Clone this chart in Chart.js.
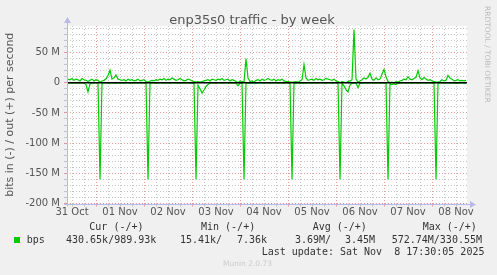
<!DOCTYPE html>
<html><head><meta charset="utf-8">
<script src="https://cdn.jsdelivr.net/npm/chart.js@4/dist/chart.umd.min.js"></script>
<style>
html,body{margin:0;padding:0;background:#f0f0f0;}
#wrap{position:relative;width:497px;height:275px;overflow:hidden;background:#f0f0f0;}
canvas{position:absolute;left:0;top:0;}
.t{position:absolute;white-space:pre;font-family:"DejaVu Sans Mono",monospace;font-size:10px;line-height:12px;color:#333;}
#title{position:absolute;left:0;width:504px;top:11.5px;text-align:center;font-family:"DejaVu Sans",sans-serif;font-size:13px;line-height:16px;color:#555;white-space:pre;}
#rrd{position:absolute;left:492px;top:6px;transform:rotate(90deg);transform-origin:0 0;font-family:"DejaVu Sans",sans-serif;font-size:7.5px;line-height:9px;color:#bbb;white-space:pre;}
#munin{position:absolute;left:223px;top:259.4px;font-family:"DejaVu Sans",sans-serif;font-size:7.5px;line-height:9px;color:#ccc;white-space:pre;}
#sw{position:absolute;left:14px;top:237px;width:6px;height:6px;background:#00cc00;}
</style></head><body>
<div id="wrap">
<canvas id="c" width="497" height="275"></canvas>
<div id="title">enp35s0 traffic - by week</div>
<div id="rrd">RRDTOOL / TOBI OETIKER</div>
<div class="t" style="left:89.3px;top:220.5px">Cur (-/+)</div>
<div class="t" style="left:201px;top:220.5px">Min (-/+)</div>
<div class="t" style="left:312.7px;top:220.5px">Avg (-/+)</div>
<div class="t" style="left:422.7px;top:220.5px">Max (-/+)</div>
<div id="sw"></div>
<div class="t" style="left:26.7px;top:234px">bps</div>
<div class="t" style="left:66px;top:234px">430.65k/989.93k</div>
<div class="t" style="left:180px;top:234px">15.41k/</div>
<div class="t" style="left:237px;top:234px">7.36k</div>
<div class="t" style="left:295px;top:234px">3.69M/</div>
<div class="t" style="left:345px;top:234px">3.45M</div>
<div class="t" style="left:391.7px;top:234px">572.74M/330.55M</div>
<div class="t" style="left:261.7px;top:245.5px">Last update: Sat Nov  8 17:30:05 2025</div>
<div id="munin">Munin 2.0.73</div>
</div>
<script>
// Time axis: hours since 31 Oct 00:00; samples hourly starting at START_HOUR
const START_HOUR = 10;
const X_MIN = 9.5, X_MAX = 209.5;
const dayLabels = ['31 Oct','01 Nov','02 Nov','03 Nov','04 Nov','05 Nov','06 Nov','07 Nov','08 Nov'];
const yTickValues = [50, 0, -50, -100, -150, -200];

// out (+) traffic, M bits/s, hourly
const outMbps = [
 6,5,7,4,6,5,3,7,5,4,
 2,4,6,3,5,4,1,3,4,6,
 12,21,6,8,13,6,5,4,5,3,
 6,4,5,3,4,6,3,4,5,2,
 1,3,4,3,5,4,6,5,7,4,
 6,5,8,6,4,5,7,5,3,4,
 6,5,3,2,1,2,1,2,3,4,
 5,3,6,5,4,6,5,7,4,5,
 6,3,5,4,2,0,3,2,1,40,
 8,2,3,1,4,5,3,6,4,5,
 7,5,4,6,3,5,4,6,3,2,
 2,1,1,1,2,1,3,5,30,8,
 4,5,6,4,7,5,6,4,5,7,
 6,5,4,6,3,2,0,2,1,0,
 2,3,5,88,6,1,3,5,8,6,
 9,16,6,4,8,5,6,14,22,10,
 2,0,1,0,2,1,3,4,6,5,
 10,6,5,7,9,20,8,5,9,6,
 4,5,3,2,1,1,2,5,3,4,
 12,8,6,3,4,5,3,4,3,4
];
// in (-) traffic magnitude, M bits/s, hourly (drawn negative)
const inMbps = [
 0.4,0.4,0.5,0.4,0.4,0.5,0.4,0.4,0.6,3,
 15,2,0.5,0.4,0.4,0.5,160,0.5,0.4,0.4,
 0.5,0.6,0.4,0.4,0.5,0.4,0.4,0.4,0.5,0.4,
 0.4,0.5,0.4,0.4,0.4,0.5,0.4,0.4,0.4,0.5,
 160,0.5,0.4,0.4,0.5,0.4,0.4,0.4,0.5,0.4,
 0.4,0.5,0.4,0.4,0.4,0.5,0.4,0.4,0.5,0.4,
 0.4,0.5,0.4,0.6,160,4,10,17,12,6,
 3,0.5,0.4,0.4,0.5,0.4,0.4,0.5,0.4,0.4,
 0.4,0.5,0.4,0.4,0.6,5,0.5,0.4,160,0.5,
 0.6,0.5,0.4,0.4,0.5,0.4,0.4,0.4,0.5,0.4,
 0.4,0.5,0.4,0.4,0.4,0.5,0.4,0.4,0.5,0.4,
 0.4,0.5,160,0.5,0.4,0.4,0.5,0.4,0.6,0.5,
 0.4,0.4,0.5,0.4,0.4,0.5,0.4,0.4,0.4,0.5,
 0.4,0.4,0.5,0.4,0.4,0.5,160,0.5,5,12,
 15,4,0.6,0.5,0.4,8,1,0.5,0.4,0.4,
 0.5,0.4,0.4,0.5,0.4,0.4,0.5,0.4,0.4,0.5,
 160,2,3,2,3,1,0.5,0.4,0.4,0.5,
 0.4,0.4,0.5,0.4,0.4,0.5,0.4,0.4,0.4,0.5,
 0.4,0.4,0.5,0.4,160,0.5,0.4,0.4,0.5,0.4,
 0.4,0.5,0.4,0.4,1,0.5,0.4,0.4,0.5,0.4
];

const GREEN = '#00cc00';
const MAJOR = 'rgba(225,120,120,0.75)';
const MINOR = 'rgba(175,175,175,0.7)';
const AXIS = 'rgb(185,185,235)';

const outData = outMbps.map((v, i) => ({x: START_HOUR + i, y: v}));
const inData = inMbps.map((v, i) => ({x: START_HOUR + i, y: -v}));

const deco = {
  id: 'deco',
  beforeDraw(chart) {
    const {ctx, chartArea: a} = chart;
    ctx.save();
    ctx.fillStyle = '#f0f0f0';
    ctx.fillRect(0, 0, chart.width, chart.height);
    ctx.fillStyle = '#ffffff';
    ctx.fillRect(a.left, a.top, a.right - a.left, a.bottom - a.top);
    ctx.restore();
  },
  afterDatasetsDraw(chart) {
    const {ctx, chartArea: a, scales: {y}} = chart;
    const y0 = y.getPixelForValue(0);
    ctx.save();
    ctx.strokeStyle = '#000';
    ctx.lineWidth = 1.3;
    ctx.beginPath(); ctx.moveTo(a.left, y0); ctx.lineTo(a.right, y0); ctx.stroke();
    // axes with arrows
    const bx = Math.round(a.left) + 0.5, by = Math.round(a.bottom) + 0.5;
    ctx.strokeStyle = AXIS; ctx.fillStyle = AXIS; ctx.lineWidth = 1;
    ctx.beginPath(); ctx.moveTo(a.left - 3, by); ctx.lineTo(a.right + 4, by); ctx.stroke();
    ctx.beginPath(); ctx.moveTo(bx, a.bottom + 3); ctx.lineTo(bx, a.top - 4); ctx.stroke();
    ctx.beginPath(); ctx.moveTo(a.right + 3, by - 3.5); ctx.lineTo(a.right + 9, by); ctx.lineTo(a.right + 3, by + 3.5); ctx.closePath(); ctx.fill();
    ctx.beginPath(); ctx.moveTo(bx - 3.5, a.top - 3); ctx.lineTo(bx, a.top - 9); ctx.lineTo(bx + 3.5, a.top - 3); ctx.closePath(); ctx.fill();
    ctx.restore();
  }
};

Chart.defaults.font.family = '"DejaVu Sans", sans-serif';
Chart.defaults.color = '#555';

new Chart(document.getElementById('c'), {
  type: 'line',
  data: {
    datasets: [
      {label: 'bps out', data: outData, borderColor: GREEN, borderWidth: 1.2, pointRadius: 0, tension: 0, fill: false},
      {label: 'bps in', data: inData, borderColor: GREEN, borderWidth: 1.2, pointRadius: 0, tension: 0, fill: false}
    ]
  },
  options: {
    responsive: false,
    animation: false,
    layout: {padding: {top: 26, right: 30, bottom: 51.5, left: 0}},
    plugins: {legend: {display: false}, title: {display: false}, tooltip: {enabled: false}},
    scales: {
      x: {
        type: 'linear', min: X_MIN, max: X_MAX,
        afterFit(s) { s.height = 20; },
        ticks: {
          stepSize: 6, includeBounds: false, autoSkip: false, maxRotation: 0, minRotation: 0,
          padding: 0, font: {size: 10}, color: '#555',
          callback(v) {
            const r = ((v % 24) + 24) % 24;
            return r === 12 ? dayLabels[Math.round((v - 12) / 24)] : '';
          }
        },
        grid: {
          color: c => (c.tick && c.tick.value % 24 === 0) ? MAJOR : MINOR,
          tickColor: c => (c.tick && c.tick.value % 24 === 0) ? MAJOR : MINOR,
          tickLength: 3, lineWidth: 1
        },
        border: {display: false, dash: [1, 2]}
      },
      y: {
        type: 'linear', min: -200, max: 94,
        afterFit(s) { s.width = 67; },
        ticks: {
          stepSize: 10, includeBounds: false, autoSkip: false, padding: 4, font: {size: 10}, color: '#555',
          callback(v) {
            const r = Math.round(v);
            if (!yTickValues.includes(r)) return '';
            return r === 0 ? '0' : r + ' M';
          }
        },
        grid: {
          color: c => (c.tick && Math.round(c.tick.value) % 50 === 0) ? MAJOR : MINOR,
          tickColor: c => (c.tick && Math.round(c.tick.value) % 50 === 0) ? MAJOR : MINOR,
          tickLength: 3, lineWidth: 1
        },
        border: {display: false, dash: [1, 2]},
        title: {display: true, text: 'bits in (-) / out (+) per second', font: {size: 11}, color: '#555', padding: {top: 4, bottom: 0}}
      }
    }
  },
  plugins: [deco]
});
</script>
</body></html>
